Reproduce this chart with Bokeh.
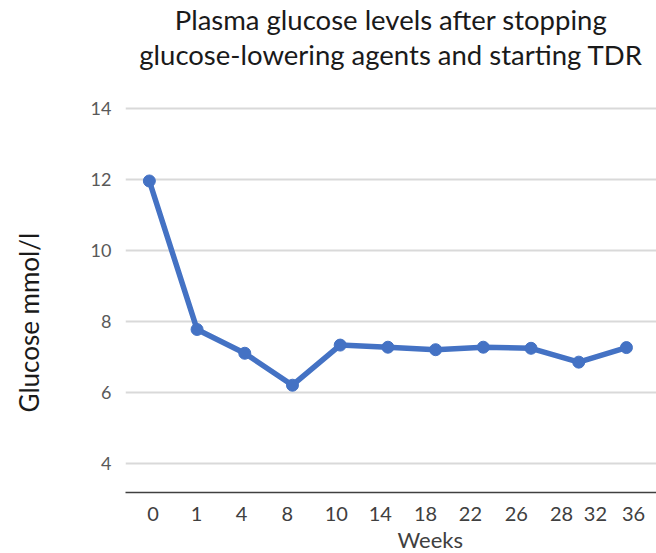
from bokeh.plotting import figure
from bokeh.models import Range1d, FixedTicker, Title, ColumnDataSource
from bokeh.embed import file_html
from bokeh.resources import INLINE

# data
visit_index = [0, 1, 2, 3, 4, 5, 6, 7, 8, 9, 10]
glucose = [11.95, 7.77, 7.1, 6.2, 7.33, 7.27, 7.2, 7.27, 7.24, 6.85, 7.26]
week_labels = ["0", "1", "4", "8", "10", "14", "18", "22", "26", "28", "32", "36"]
week_label_pos = [0.08, 0.99, 1.93, 2.89, 3.92, 4.84, 5.79, 6.73, 7.69, 8.64, 9.35, 10.15]
y_ticks = [4, 6, 8, 10, 12, 14]
title_lines = ["Plasma glucose levels after stopping",
               "glucose-lowering agents and starting TDR"]

FONT = "Lato"

p = figure(width=656, height=553, output_backend="svg", toolbar_location=None,
           x_range=Range1d(-0.5, 10.63), y_range=Range1d(3.18, 14.3),
           min_border_left=125, min_border_right=0, min_border_bottom=61,
           min_border_top=97)
p.outline_line_color = None
p.background_fill_color = "white"

src = ColumnDataSource(dict(x=visit_index, y=glucose))
p.line("x", "y", source=src, line_color="#4472C4", line_width=5.5)
p.scatter("x", "y", source=src, size=12, fill_color="#4472C4", line_color="#4472C4")

# title lines (first added sits closest to the plot); a blank spacer first
spacer_top = Title(text=" ", text_font=FONT, text_font_size="21px", standoff=0)
t2 = Title(text=title_lines[1], align="center", text_font=FONT, text_font_size="27.5px",
           text_font_style="normal", text_color="#1a1a1a", standoff=0)
t1 = Title(text=title_lines[0], align="center", text_font=FONT, text_font_size="27.5px",
           text_font_style="normal", text_color="#1a1a1a", standoff=0)
p.add_layout(spacer_top, "above")
p.add_layout(t2, "above")
p.add_layout(t1, "above")

# y axis
p.yaxis.ticker = FixedTicker(ticks=y_ticks)
p.yaxis.axis_line_color = None
p.yaxis.major_tick_line_color = None
p.yaxis.minor_tick_line_color = None
p.yaxis.major_label_text_font = FONT
p.yaxis.major_label_text_font_size = "18px"
p.yaxis.major_label_text_color = "#595959"
p.yaxis.major_label_standoff = 8

spacer_left = Title(text=" ", text_font=FONT, text_font_size="34px", standoff=0)
ylab = Title(text="Glucose mmol/l", align="left", offset=80, text_font=FONT,
             text_font_size="26px", text_font_style="normal", text_color="#1a1a1a",
             standoff=0)
p.add_layout(spacer_left, "left")
p.add_layout(ylab, "left")

# x axis
p.xaxis.ticker = FixedTicker(ticks=week_label_pos)
p.xaxis.major_label_overrides = {pos: lab for pos, lab in zip(week_label_pos, week_labels)}
p.xaxis.axis_line_color = "#404040"
p.xaxis.axis_line_width = 1.5
p.xaxis.major_tick_line_color = None
p.xaxis.minor_tick_line_color = None
p.xaxis.major_label_text_font = FONT
p.xaxis.major_label_text_font_size = "20px"
p.xaxis.major_label_text_color = "#404040"
p.xaxis.major_label_standoff = 8

wk = Title(text="Weeks", align="left", offset=272, text_font=FONT,
           text_font_size="22px", text_font_style="normal", text_color="#404040",
           standoff=0)
p.add_layout(wk, "below")

p.xgrid.grid_line_color = None
p.ygrid.ticker = FixedTicker(ticks=y_ticks)
p.ygrid.grid_line_color = "#d9d9d9"
p.ygrid.grid_line_width = 2

open("out.html", "w").write(file_html(p, INLINE))
